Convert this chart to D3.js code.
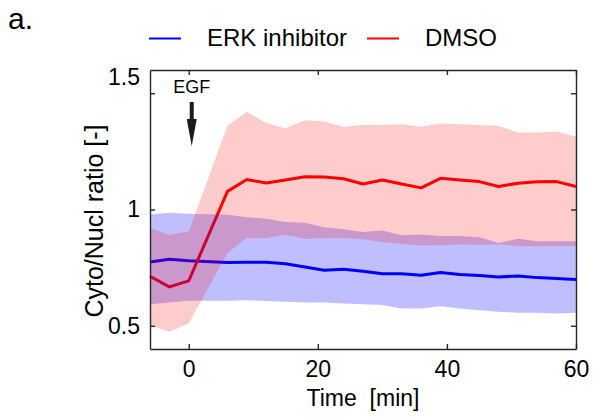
<!DOCTYPE html>
<html>
<head>
<meta charset="utf-8">
<script src="https://cdn.jsdelivr.net/npm/d3@7"></script>
<style>
  html, body { margin: 0; padding: 0; background: #fff; }
  #chart svg { display: block; }
  #chart text { font-family: "Liberation Sans", Arial, Helvetica, sans-serif; fill: #000; }
</style>
</head>
<body>
<div id="chart"></div>
<script>
// Data
// ---------------------------------------------------------------------------
var times = [-6, -3, 0, 6, 9, 12, 15, 18, 21, 24, 27, 30, 33, 36, 39, 42, 45, 48, 51, 54, 57, 60];

var erkMean  = [0.774, 0.786, 0.780, 0.772, 0.773, 0.773, 0.767, 0.753, 0.739, 0.743, 0.734, 0.724, 0.724, 0.717, 0.729, 0.720, 0.716, 0.710, 0.714, 0.707, 0.703, 0.699];
var erkUpper = [0.979, 0.986, 0.982, 0.977, 0.967, 0.960, 0.946, 0.943, 0.924, 0.915, 0.903, 0.910, 0.889, 0.893, 0.886, 0.886, 0.881, 0.856, 0.874, 0.863, 0.863, 0.863];
var erkLower = [0.592, 0.600, 0.607, 0.607, 0.610, 0.606, 0.603, 0.600, 0.600, 0.596, 0.592, 0.589, 0.574, 0.574, 0.584, 0.574, 0.567, 0.560, 0.556, 0.556, 0.553, 0.556];

var dmsoMean  = [0.713, 0.667, 0.693, 1.078, 1.129, 1.114, 1.127, 1.141, 1.140, 1.132, 1.110, 1.127, 1.110, 1.093, 1.134, 1.127, 1.120, 1.099, 1.113, 1.119, 1.120, 1.099];
var dmsoUpper = [0.920, 0.890, 0.906, 1.360, 1.420, 1.372, 1.349, 1.384, 1.378, 1.356, 1.363, 1.363, 1.367, 1.356, 1.370, 1.367, 1.363, 1.360, 1.331, 1.331, 1.335, 1.313];
var dmsoLower = [0.503, 0.474, 0.510, 0.813, 0.877, 0.877, 0.891, 0.874, 0.877, 0.877, 0.872, 0.860, 0.852, 0.845, 0.846, 0.850, 0.848, 0.850, 0.843, 0.842, 0.843, 0.843];

var seriesNames = ["ERK inhibitor", "DMSO"];
var xTicks = [0, 20, 40, 60];
var yTicks = [0.5, 1, 1.5];
var egfTime = 0;

;(function() {
  "use strict";

  var
  W = 595,
  H = 419,
  plot = { left: 150, right: 576, top: 70, bottom: 349 },
  fontSize = 23,
  axisColor = "#262626"
  ;

  var svg = d3.select("#chart").append("svg")
    .attr("width", W)
    .attr("height", H);

  // Scales
  // ---------------------------------------------------------------------------
  var x = d3.scaleLinear().domain([-6, 60]).range([plot.left, plot.right]);
  var y = d3.scaleLinear().domain([0.4, 1.6]).range([plot.bottom, plot.top]);

  function rows(mean, lo, hi) {
    return times.map(function(t, i) {
      return { t: t, m: mean[i], lo: lo[i], hi: hi[i] };
    });
  }

  var series = [
    { name: seriesNames[0], color: "#0000ff", alpha: 0.25, rows: rows(erkMean, erkLower, erkUpper) },
    { name: seriesNames[1], color: "#ff0000", alpha: 0.2,  rows: rows(dmsoMean, dmsoLower, dmsoUpper) }
  ];

  var line = d3.line()
    .x(function(d) { return x(d.t); })
    .y(function(d) { return y(d.m); });

  var area = d3.area()
    .x(function(d) { return x(d.t); })
    .y0(function(d) { return y(d.lo); })
    .y1(function(d) { return y(d.hi); });

  // Mean lines sit under the translucent bands
  // ---------------------------------------------------------------------------
  var g = svg.append("g");

  g.selectAll("path.mean")
    .data(series)
    .enter().append("path")
      .attr("class", "mean")
      .attr("d", function(d) { return line(d.rows); })
      .attr("fill", "none")
      .attr("stroke", function(d) { return d.color; })
      .attr("stroke-width", 3)
      .attr("stroke-linejoin", "round");

  g.selectAll("path.band")
    .data(series)
    .enter().append("path")
      .attr("class", "band")
      .attr("d", function(d) { return area(d.rows); })
      .attr("fill", function(d) { return d.color; })
      .attr("fill-opacity", function(d) { return d.alpha; });

  // Axes (box with inward ticks)
  // ---------------------------------------------------------------------------
  function style(sel) {
    sel.select(".domain").attr("stroke", axisColor).attr("stroke-width", 1.4);
    sel.selectAll(".tick line").attr("stroke", axisColor).attr("stroke-width", 1.4);
    sel.selectAll("text")
      .attr("font-size", fontSize)
      .attr("font-family", null)
      .attr("fill", "#000");
  }

  svg.append("g")
    .attr("transform", "translate(0," + plot.bottom + ")")
    .call(d3.axisBottom(x).tickValues(xTicks).tickSize(-5).tickSizeOuter(0).tickPadding(12))
    .call(style);

  svg.append("g")
    .attr("transform", "translate(0," + plot.top + ")")
    .call(d3.axisTop(x).tickValues(xTicks).tickSize(-5).tickSizeOuter(0).tickFormat(""))
    .call(style);

  var yAxis = svg.append("g")
    .attr("transform", "translate(" + plot.left + ",0)")
    .call(d3.axisLeft(y).tickValues(yTicks).tickSize(-5).tickSizeOuter(0).tickPadding(10)
      .tickFormat(function(d) { return d3.format("")(d); }))
    .call(style);

  svg.append("g")
    .attr("transform", "translate(" + plot.right + ",0)")
    .call(d3.axisRight(y).tickValues(yTicks).tickSize(-5).tickSizeOuter(0).tickFormat(""))
    .call(style);

  // top label sits higher than its tick in the original
  yAxis.selectAll(".tick text")
    .filter(function(d) { return d === 1.5; })
    .attr("y", -16);

  svg.append("text")
    .attr("x", (plot.left + plot.right) / 2)
    .attr("y", 406)
    .attr("text-anchor", "middle")
    .attr("font-size", fontSize)
    .style("white-space", "pre")
    .text("Time  [min]");

  svg.append("text")
    .attr("transform", "translate(103,221) rotate(-90)")
    .attr("text-anchor", "middle")
    .attr("font-size", 25)
    .text("Cyto/Nucl ratio [-]");

  // EGF annotation
  // ---------------------------------------------------------------------------
  var ax = x(egfTime) + 3;

  svg.append("text")
    .attr("x", ax)
    .attr("y", 93)
    .attr("text-anchor", "middle")
    .attr("font-size", 18)
    .text("EGF");

  svg.append("line")
    .attr("x1", ax).attr("x2", ax)
    .attr("y1", 102).attr("y2", 124)
    .attr("stroke", "#1a1a1a")
    .attr("stroke-width", 4);

  svg.append("path")
    .attr("d", "M" + (ax - 5) + ",119L" + (ax + 5) + ",119L" + ax + ",146Z")
    .attr("fill", "#1a1a1a");

  // Legend
  // ---------------------------------------------------------------------------
  var legendX = [149, 367];
  var legend = svg.selectAll("g.legend")
    .data(series)
    .enter().append("g")
      .attr("class", "legend")
      .attr("transform", function(d, i) { return "translate(" + legendX[i] + ",38.5)"; });

  legend.append("line")
    .attr("x1", 0).attr("x2", 32)
    .attr("stroke", function(d) { return d.color; })
    .attr("stroke-width", 2);

  legend.append("text")
    .attr("x", 58)
    .attr("y", 7)
    .attr("font-size", 24)
    .text(function(d) { return d.name; });

  svg.append("text")
    .attr("x", 8)
    .attr("y", 29)
    .attr("font-size", 30)
    .text("a.");
})();
</script>
</body>
</html>
